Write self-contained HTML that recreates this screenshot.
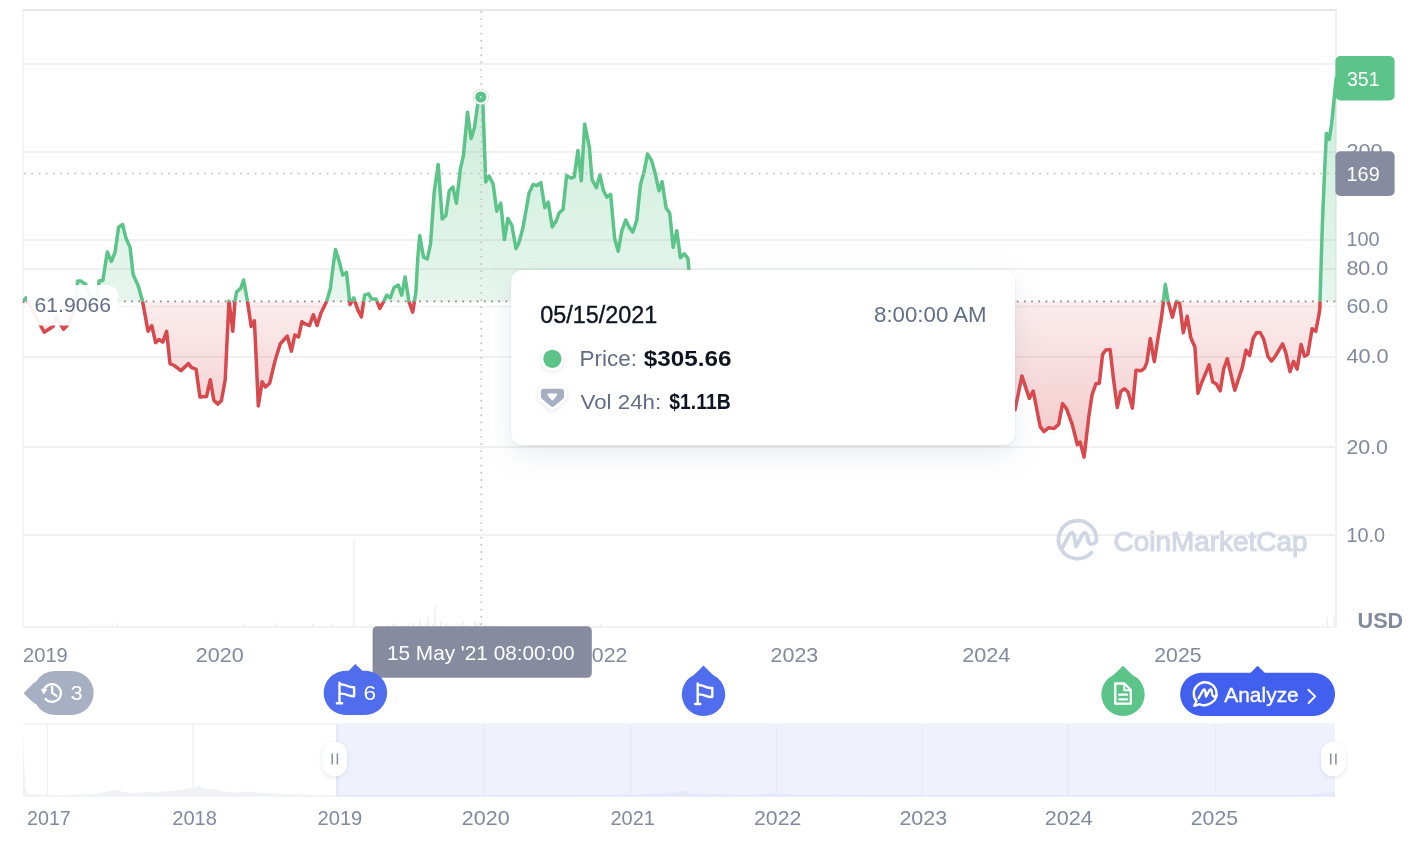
<!DOCTYPE html>
<html lang="en"><head><meta charset="utf-8"><title>Price chart</title>
<style>
html,body{margin:0;padding:0;background:#fff;}
body{width:1418px;height:842px;overflow:hidden;font-family:"Liberation Sans",sans-serif;}
svg{display:block;}
svg text{font-family:"Liberation Sans",sans-serif;}
</style></head><body>
<svg width="1418" height="842" viewBox="0 0 1418 842">
<defs>
<linearGradient id="gG" gradientUnits="userSpaceOnUse" x1="0" y1="78" x2="0" y2="301.4">
<stop offset="0" stop-color="#5cc489" stop-opacity="0.32"/><stop offset="1" stop-color="#5cc489" stop-opacity="0.15"/></linearGradient>
<linearGradient id="gR" gradientUnits="userSpaceOnUse" x1="0" y1="301.4" x2="0" y2="460">
<stop offset="0" stop-color="#d8494e" stop-opacity="0.10"/><stop offset="1" stop-color="#d8494e" stop-opacity="0.31"/></linearGradient>
<clipPath id="cUp"><rect x="22.8" y="0" width="1315.2" height="301.4"/></clipPath>
<clipPath id="cDn"><rect x="22.8" y="301.4" width="1315.2" height="325.6"/></clipPath>
<filter id="sh" x="-10%" y="-25%" width="120%" height="170%"><feDropShadow dx="0" dy="9" stdDeviation="13" flood-color="#808a9d" flood-opacity="0.17" result="a"/><feDropShadow in="SourceGraphic" dx="0" dy="1" stdDeviation="1.1" flood-color="#808a9d" flood-opacity="0.16" result="b"/><feMerge><feMergeNode in="a"/><feMergeNode in="b"/></feMerge></filter>
<filter id="sh2" x="-50%" y="-50%" width="200%" height="200%"><feDropShadow dx="0" dy="1.5" stdDeviation="2.2" flood-color="#58667e" flood-opacity="0.16"/></filter>
</defs>
<rect width="1418" height="842" fill="#fff"/>

<line x1="22.8" y1="64" x2="1336.5" y2="64" stroke="#f0f0f0" stroke-width="2"/>
<line x1="22.8" y1="152" x2="1336.5" y2="152" stroke="#f0f0f0" stroke-width="2"/>
<line x1="22.8" y1="240" x2="1336.5" y2="240" stroke="#f0f0f0" stroke-width="2"/>
<line x1="22.8" y1="269" x2="1336.5" y2="269" stroke="#f0f0f0" stroke-width="2"/>
<line x1="22.8" y1="357" x2="1336.5" y2="357" stroke="#f0f0f0" stroke-width="2"/>
<line x1="22.8" y1="447" x2="1336.5" y2="447" stroke="#f0f0f0" stroke-width="2"/>
<line x1="22.8" y1="535" x2="1336.5" y2="535" stroke="#f0f0f0" stroke-width="2"/>
<line x1="22.8" y1="306.6" x2="1336.5" y2="306.6" stroke="#f1f1f1" stroke-width="1.2"/>
<line x1="22" y1="10" x2="1337" y2="10" stroke="#e6e6e6" stroke-width="2"/>
<line x1="22" y1="627" x2="1337" y2="627" stroke="#f2f2f2" stroke-width="2"/>
<line x1="22.9" y1="10" x2="22.9" y2="628" stroke="#f2f2f2" stroke-width="1.5"/>
<line x1="1336" y1="10" x2="1336" y2="628" stroke="#f2f2f2" stroke-width="2"/>
<line x1="354.0" y1="540.5" x2="354.0" y2="627" stroke="#eff0f6" stroke-width="1.6"/>
<line x1="435.0" y1="606.0" x2="435.0" y2="627" stroke="#eff0f6" stroke-width="1.6"/>
<line x1="420.0" y1="620.0" x2="420.0" y2="627" stroke="#eff0f6" stroke-width="1.6"/>
<line x1="428.0" y1="617.0" x2="428.0" y2="627" stroke="#eff0f6" stroke-width="1.6"/>
<line x1="441.0" y1="621.0" x2="441.0" y2="627" stroke="#eff0f6" stroke-width="1.6"/>
<line x1="475.0" y1="620.0" x2="475.0" y2="627" stroke="#eff0f6" stroke-width="1.6"/>
<line x1="479.0" y1="622.0" x2="479.0" y2="627" stroke="#eff0f6" stroke-width="1.6"/>
<line x1="463.0" y1="621.0" x2="463.0" y2="627" stroke="#eff0f6" stroke-width="1.6"/>
<line x1="96.0" y1="624.0" x2="96.0" y2="627" stroke="#eff0f6" stroke-width="1.6"/>
<line x1="112.0" y1="624.0" x2="112.0" y2="627" stroke="#eff0f6" stroke-width="1.6"/>
<line x1="117.0" y1="623.5" x2="117.0" y2="627" stroke="#eff0f6" stroke-width="1.6"/>
<line x1="184.0" y1="625.0" x2="184.0" y2="627" stroke="#eff0f6" stroke-width="1.6"/>
<line x1="243.0" y1="624.0" x2="243.0" y2="627" stroke="#eff0f6" stroke-width="1.6"/>
<line x1="277.0" y1="623.5" x2="277.0" y2="627" stroke="#eff0f6" stroke-width="1.6"/>
<line x1="313.0" y1="624.0" x2="313.0" y2="627" stroke="#eff0f6" stroke-width="1.6"/>
<line x1="331.0" y1="624.0" x2="331.0" y2="627" stroke="#eff0f6" stroke-width="1.6"/>
<line x1="371.0" y1="624.0" x2="371.0" y2="627" stroke="#eff0f6" stroke-width="1.6"/>
<line x1="393.0" y1="624.0" x2="393.0" y2="627" stroke="#eff0f6" stroke-width="1.6"/>
<line x1="1323.3" y1="624.0" x2="1323.3" y2="627" stroke="#eff0f6" stroke-width="1.6"/>
<line x1="1327.0" y1="617.3" x2="1327.0" y2="627" stroke="#eff0f6" stroke-width="1.6"/>
<line x1="1334.4" y1="617.0" x2="1334.4" y2="627" stroke="#eff0f6" stroke-width="1.6"/>
<line x1="380.5" y1="625.6" x2="380.5" y2="627" stroke="#eff0f6" stroke-width="1.6"/>
<line x1="384.8" y1="625.5" x2="384.8" y2="627" stroke="#eff0f6" stroke-width="1.6"/>
<line x1="388.1" y1="624.6" x2="388.1" y2="627" stroke="#eff0f6" stroke-width="1.6"/>
<line x1="393.8" y1="623.2" x2="393.8" y2="627" stroke="#eff0f6" stroke-width="1.6"/>
<line x1="397.5" y1="625.2" x2="397.5" y2="627" stroke="#eff0f6" stroke-width="1.6"/>
<line x1="401.1" y1="625.0" x2="401.1" y2="627" stroke="#eff0f6" stroke-width="1.6"/>
<line x1="404.3" y1="625.6" x2="404.3" y2="627" stroke="#eff0f6" stroke-width="1.6"/>
<line x1="408.4" y1="622.8" x2="408.4" y2="627" stroke="#eff0f6" stroke-width="1.6"/>
<line x1="413.7" y1="623.2" x2="413.7" y2="627" stroke="#eff0f6" stroke-width="1.6"/>
<line x1="417.6" y1="625.3" x2="417.6" y2="627" stroke="#eff0f6" stroke-width="1.6"/>
<line x1="420.6" y1="623.8" x2="420.6" y2="627" stroke="#eff0f6" stroke-width="1.6"/>
<line x1="425.5" y1="623.0" x2="425.5" y2="627" stroke="#eff0f6" stroke-width="1.6"/>
<line x1="429.8" y1="625.7" x2="429.8" y2="627" stroke="#eff0f6" stroke-width="1.6"/>
<line x1="433.2" y1="623.6" x2="433.2" y2="627" stroke="#eff0f6" stroke-width="1.6"/>
<line x1="437.0" y1="625.4" x2="437.0" y2="627" stroke="#eff0f6" stroke-width="1.6"/>
<line x1="440.9" y1="625.7" x2="440.9" y2="627" stroke="#eff0f6" stroke-width="1.6"/>
<line x1="445.9" y1="623.0" x2="445.9" y2="627" stroke="#eff0f6" stroke-width="1.6"/>
<line x1="449.1" y1="624.9" x2="449.1" y2="627" stroke="#eff0f6" stroke-width="1.6"/>
<line x1="453.8" y1="624.0" x2="453.8" y2="627" stroke="#eff0f6" stroke-width="1.6"/>
<line x1="457.8" y1="623.0" x2="457.8" y2="627" stroke="#eff0f6" stroke-width="1.6"/>
<line x1="461.0" y1="624.6" x2="461.0" y2="627" stroke="#eff0f6" stroke-width="1.6"/>
<line x1="465.2" y1="624.5" x2="465.2" y2="627" stroke="#eff0f6" stroke-width="1.6"/>
<line x1="468.3" y1="624.9" x2="468.3" y2="627" stroke="#eff0f6" stroke-width="1.6"/>
<line x1="473.6" y1="625.8" x2="473.6" y2="627" stroke="#eff0f6" stroke-width="1.6"/>
<line x1="476.1" y1="623.8" x2="476.1" y2="627" stroke="#eff0f6" stroke-width="1.6"/>
<line x1="480.6" y1="624.1" x2="480.6" y2="627" stroke="#eff0f6" stroke-width="1.6"/>
<line x1="484.9" y1="624.8" x2="484.9" y2="627" stroke="#eff0f6" stroke-width="1.6"/>
<line x1="490.0" y1="625.3" x2="490.0" y2="627" stroke="#eff0f6" stroke-width="1.6"/>
<line x1="492.8" y1="625.3" x2="492.8" y2="627" stroke="#eff0f6" stroke-width="1.6"/>
<line x1="497.3" y1="625.0" x2="497.3" y2="627" stroke="#eff0f6" stroke-width="1.6"/>
<line x1="585.0" y1="625.3" x2="585.0" y2="627" stroke="#eff0f6" stroke-width="1.6"/>
<line x1="589.0" y1="624.5" x2="589.0" y2="627" stroke="#eff0f6" stroke-width="1.6"/>
<line x1="593.0" y1="625.4" x2="593.0" y2="627" stroke="#eff0f6" stroke-width="1.6"/>
<line x1="597.0" y1="624.9" x2="597.0" y2="627" stroke="#eff0f6" stroke-width="1.6"/>
<line x1="601.0" y1="624.2" x2="601.0" y2="627" stroke="#eff0f6" stroke-width="1.6"/>
<path d="M22.8,301.3 L26.0,297.9 L44.2,332.2 L53.3,326.2 L56.4,317.0 L63.4,329.2 L67.5,325.0 L74.5,309.0 L77.6,281.1 L80.6,281.0 L85.7,284.3 L95.8,307.0 L99.2,280.7 L102.8,280.7 L107.3,252.0 L111.3,261.5 L115.0,252.4 L118.6,227.2 L122.6,224.5 L126.0,238.3 L130.1,247.4 L133.1,274.6 L138.2,285.8 L142.5,300.9 L148.0,331.3 L151.8,325.6 L155.6,342.7 L159.0,339.5 L162.8,342.1 L166.6,331.3 L170.0,363.6 L174.2,365.5 L180.9,370.6 L188.5,363.6 L191.3,367.4 L196.1,369.3 L199.9,396.9 L206.5,396.5 L210.3,379.8 L213.8,400.3 L217.6,404.1 L221.4,400.7 L225.2,379.8 L227.1,339.8 L229.0,300.9 L232.8,331.3 L235.0,300.9 L236.6,291.9 L240.8,288.1 L243.6,280.0 L247.4,300.9 L251.2,326.5 L254.4,320.8 L256.3,360.8 L258.3,406.0 L262.1,381.7 L265.5,387.0 L269.7,383.2 L275.0,360.8 L280.3,343.7 L287.3,336.0 L291.4,351.2 L294.8,335.0 L298.6,336.9 L301.9,321.7 L305.7,324.2 L309.5,325.5 L313.3,314.7 L317.1,325.5 L320.9,313.2 L326.6,301.4 L330.4,288.4 L333.2,265.6 L335.5,249.5 L339.3,261.8 L342.7,275.1 L346.5,272.3 L350.0,304.6 L353.8,297.9 L357.6,309.4 L361.4,317.0 L364.6,295.1 L368.4,293.8 L371.6,298.9 L376.0,298.9 L379.8,308.4 L383.6,301.7 L386.8,295.1 L390.3,297.9 L394.1,287.5 L398.3,285.0 L401.7,295.1 L405.1,277.0 L408.9,301.4 L412.7,312.2 L415.9,292.2 L417.8,258.0 L419.7,235.6 L423.5,257.1 L427.3,259.0 L430.5,244.4 L434.1,193.1 L438.2,164.4 L442.2,219.0 L445.9,215.4 L449.3,190.7 L452.9,187.1 L456.4,203.2 L460.4,168.9 L463.4,155.8 L467.5,112.3 L471.1,138.6 L474.5,127.5 L477.6,105.3 L480.6,97.2 L483.0,106.3 L485.7,182.0 L489.1,176.0 L493.1,184.0 L496.8,211.3 L500.8,203.2 L504.4,239.6 L507.9,218.4 L511.9,225.5 L516.0,248.7 L519.0,242.6 L523.0,227.5 L529.1,193.1 L533.1,184.6 L536.8,185.5 L540.8,182.6 L544.8,207.7 L548.3,202.2 L552.2,227.0 L556.1,221.0 L559.1,213.0 L563.1,209.3 L566.6,175.6 L571.2,178.2 L574.2,177.0 L577.9,150.4 L581.3,180.7 L584.7,124.1 L589.4,147.4 L592.0,179.7 L596.4,187.7 L599.9,175.0 L603.5,190.8 L606.9,197.2 L610.6,194.4 L614.6,238.2 L618.2,251.3 L621.7,231.1 L625.7,220.0 L629.1,227.1 L632.8,232.1 L636.8,220.0 L640.4,184.7 L643.9,172.6 L647.5,154.0 L651.6,160.5 L655.0,172.6 L659.0,190.8 L662.1,181.7 L666.1,207.9 L669.7,213.0 L673.2,247.3 L676.8,230.7 L680.4,257.8 L684.3,253.8 L687.9,258.4 L688.9,269.5 L691.0,290.0 L693.0,301.4 L700.0,330.0 L1010.0,400.0 L1015.1,409.7 L1021.9,375.9 L1029.3,398.4 L1033.2,391.0 L1040.2,426.6 L1044.0,431.6 L1048.5,427.8 L1054.1,428.4 L1058.7,424.4 L1062.5,403.6 L1066.5,408.6 L1072.2,424.4 L1077.4,444.7 L1080.1,442.0 L1084.1,457.1 L1088.7,417.6 L1092.0,395.0 L1095.9,383.8 L1099.3,383.3 L1102.6,354.4 L1106.0,349.9 L1110.1,349.5 L1113.5,379.3 L1117.3,407.5 L1120.7,391.7 L1124.5,388.7 L1128.1,392.3 L1132.4,408.1 L1136.0,370.2 L1141.0,370.7 L1144.4,368.4 L1146.8,362.6 L1150.3,338.6 L1154.3,361.8 L1157.8,339.5 L1161.4,318.1 L1163.5,301.2 L1165.3,284.3 L1168.1,301.2 L1172.4,317.2 L1176.5,301.2 L1179.6,303.0 L1183.3,332.7 L1187.2,316.3 L1190.8,337.7 L1194.9,347.0 L1197.9,393.3 L1201.5,383.1 L1209.1,364.8 L1212.7,381.9 L1216.3,384.0 L1220.2,390.8 L1223.7,368.9 L1227.3,358.7 L1230.9,374.2 L1234.8,390.3 L1238.0,380.5 L1242.4,367.1 L1246.0,350.2 L1249.6,355.5 L1253.1,338.6 L1256.7,332.4 L1260.3,332.7 L1263.8,339.5 L1267.9,356.4 L1271.5,361.2 L1275.8,355.5 L1282.6,343.9 L1285.7,352.4 L1290.0,371.6 L1293.5,361.3 L1297.1,369.1 L1301.1,344.5 L1304.5,356.3 L1307.8,354.2 L1312.1,328.8 L1315.7,331.3 L1318.5,317.1 L1319.9,308.5 L1320.0,301.1 L1322.4,222.7 L1324.5,173.4 L1326.4,133.3 L1329.2,139.5 L1331.6,124.0 L1334.7,93.2 L1336.3,77.8 L1336.3,301.4 L22.8,301.4 Z" fill="url(#gG)" clip-path="url(#cUp)"/>
<path d="M22.8,301.3 L26.0,297.9 L44.2,332.2 L53.3,326.2 L56.4,317.0 L63.4,329.2 L67.5,325.0 L74.5,309.0 L77.6,281.1 L80.6,281.0 L85.7,284.3 L95.8,307.0 L99.2,280.7 L102.8,280.7 L107.3,252.0 L111.3,261.5 L115.0,252.4 L118.6,227.2 L122.6,224.5 L126.0,238.3 L130.1,247.4 L133.1,274.6 L138.2,285.8 L142.5,300.9 L148.0,331.3 L151.8,325.6 L155.6,342.7 L159.0,339.5 L162.8,342.1 L166.6,331.3 L170.0,363.6 L174.2,365.5 L180.9,370.6 L188.5,363.6 L191.3,367.4 L196.1,369.3 L199.9,396.9 L206.5,396.5 L210.3,379.8 L213.8,400.3 L217.6,404.1 L221.4,400.7 L225.2,379.8 L227.1,339.8 L229.0,300.9 L232.8,331.3 L235.0,300.9 L236.6,291.9 L240.8,288.1 L243.6,280.0 L247.4,300.9 L251.2,326.5 L254.4,320.8 L256.3,360.8 L258.3,406.0 L262.1,381.7 L265.5,387.0 L269.7,383.2 L275.0,360.8 L280.3,343.7 L287.3,336.0 L291.4,351.2 L294.8,335.0 L298.6,336.9 L301.9,321.7 L305.7,324.2 L309.5,325.5 L313.3,314.7 L317.1,325.5 L320.9,313.2 L326.6,301.4 L330.4,288.4 L333.2,265.6 L335.5,249.5 L339.3,261.8 L342.7,275.1 L346.5,272.3 L350.0,304.6 L353.8,297.9 L357.6,309.4 L361.4,317.0 L364.6,295.1 L368.4,293.8 L371.6,298.9 L376.0,298.9 L379.8,308.4 L383.6,301.7 L386.8,295.1 L390.3,297.9 L394.1,287.5 L398.3,285.0 L401.7,295.1 L405.1,277.0 L408.9,301.4 L412.7,312.2 L415.9,292.2 L417.8,258.0 L419.7,235.6 L423.5,257.1 L427.3,259.0 L430.5,244.4 L434.1,193.1 L438.2,164.4 L442.2,219.0 L445.9,215.4 L449.3,190.7 L452.9,187.1 L456.4,203.2 L460.4,168.9 L463.4,155.8 L467.5,112.3 L471.1,138.6 L474.5,127.5 L477.6,105.3 L480.6,97.2 L483.0,106.3 L485.7,182.0 L489.1,176.0 L493.1,184.0 L496.8,211.3 L500.8,203.2 L504.4,239.6 L507.9,218.4 L511.9,225.5 L516.0,248.7 L519.0,242.6 L523.0,227.5 L529.1,193.1 L533.1,184.6 L536.8,185.5 L540.8,182.6 L544.8,207.7 L548.3,202.2 L552.2,227.0 L556.1,221.0 L559.1,213.0 L563.1,209.3 L566.6,175.6 L571.2,178.2 L574.2,177.0 L577.9,150.4 L581.3,180.7 L584.7,124.1 L589.4,147.4 L592.0,179.7 L596.4,187.7 L599.9,175.0 L603.5,190.8 L606.9,197.2 L610.6,194.4 L614.6,238.2 L618.2,251.3 L621.7,231.1 L625.7,220.0 L629.1,227.1 L632.8,232.1 L636.8,220.0 L640.4,184.7 L643.9,172.6 L647.5,154.0 L651.6,160.5 L655.0,172.6 L659.0,190.8 L662.1,181.7 L666.1,207.9 L669.7,213.0 L673.2,247.3 L676.8,230.7 L680.4,257.8 L684.3,253.8 L687.9,258.4 L688.9,269.5 L691.0,290.0 L693.0,301.4 L700.0,330.0 L1010.0,400.0 L1015.1,409.7 L1021.9,375.9 L1029.3,398.4 L1033.2,391.0 L1040.2,426.6 L1044.0,431.6 L1048.5,427.8 L1054.1,428.4 L1058.7,424.4 L1062.5,403.6 L1066.5,408.6 L1072.2,424.4 L1077.4,444.7 L1080.1,442.0 L1084.1,457.1 L1088.7,417.6 L1092.0,395.0 L1095.9,383.8 L1099.3,383.3 L1102.6,354.4 L1106.0,349.9 L1110.1,349.5 L1113.5,379.3 L1117.3,407.5 L1120.7,391.7 L1124.5,388.7 L1128.1,392.3 L1132.4,408.1 L1136.0,370.2 L1141.0,370.7 L1144.4,368.4 L1146.8,362.6 L1150.3,338.6 L1154.3,361.8 L1157.8,339.5 L1161.4,318.1 L1163.5,301.2 L1165.3,284.3 L1168.1,301.2 L1172.4,317.2 L1176.5,301.2 L1179.6,303.0 L1183.3,332.7 L1187.2,316.3 L1190.8,337.7 L1194.9,347.0 L1197.9,393.3 L1201.5,383.1 L1209.1,364.8 L1212.7,381.9 L1216.3,384.0 L1220.2,390.8 L1223.7,368.9 L1227.3,358.7 L1230.9,374.2 L1234.8,390.3 L1238.0,380.5 L1242.4,367.1 L1246.0,350.2 L1249.6,355.5 L1253.1,338.6 L1256.7,332.4 L1260.3,332.7 L1263.8,339.5 L1267.9,356.4 L1271.5,361.2 L1275.8,355.5 L1282.6,343.9 L1285.7,352.4 L1290.0,371.6 L1293.5,361.3 L1297.1,369.1 L1301.1,344.5 L1304.5,356.3 L1307.8,354.2 L1312.1,328.8 L1315.7,331.3 L1318.5,317.1 L1319.9,308.5 L1320.0,301.1 L1322.4,222.7 L1324.5,173.4 L1326.4,133.3 L1329.2,139.5 L1331.6,124.0 L1334.7,93.2 L1336.3,77.8 L1336.3,301.4 L22.8,301.4 Z" fill="url(#gR)" clip-path="url(#cDn)"/>
<line x1="22.8" y1="301.4" x2="1336.5" y2="301.4" stroke="#8a8a8e" stroke-width="1.7" stroke-dasharray="1.8 5.4" stroke-dashoffset="-0.3"/>
<path d="M22.8,301.3 L26.0,297.9 L44.2,332.2 L53.3,326.2 L56.4,317.0 L63.4,329.2 L67.5,325.0 L74.5,309.0 L77.6,281.1 L80.6,281.0 L85.7,284.3 L95.8,307.0 L99.2,280.7 L102.8,280.7 L107.3,252.0 L111.3,261.5 L115.0,252.4 L118.6,227.2 L122.6,224.5 L126.0,238.3 L130.1,247.4 L133.1,274.6 L138.2,285.8 L142.5,300.9 L148.0,331.3 L151.8,325.6 L155.6,342.7 L159.0,339.5 L162.8,342.1 L166.6,331.3 L170.0,363.6 L174.2,365.5 L180.9,370.6 L188.5,363.6 L191.3,367.4 L196.1,369.3 L199.9,396.9 L206.5,396.5 L210.3,379.8 L213.8,400.3 L217.6,404.1 L221.4,400.7 L225.2,379.8 L227.1,339.8 L229.0,300.9 L232.8,331.3 L235.0,300.9 L236.6,291.9 L240.8,288.1 L243.6,280.0 L247.4,300.9 L251.2,326.5 L254.4,320.8 L256.3,360.8 L258.3,406.0 L262.1,381.7 L265.5,387.0 L269.7,383.2 L275.0,360.8 L280.3,343.7 L287.3,336.0 L291.4,351.2 L294.8,335.0 L298.6,336.9 L301.9,321.7 L305.7,324.2 L309.5,325.5 L313.3,314.7 L317.1,325.5 L320.9,313.2 L326.6,301.4 L330.4,288.4 L333.2,265.6 L335.5,249.5 L339.3,261.8 L342.7,275.1 L346.5,272.3 L350.0,304.6 L353.8,297.9 L357.6,309.4 L361.4,317.0 L364.6,295.1 L368.4,293.8 L371.6,298.9 L376.0,298.9 L379.8,308.4 L383.6,301.7 L386.8,295.1 L390.3,297.9 L394.1,287.5 L398.3,285.0 L401.7,295.1 L405.1,277.0 L408.9,301.4 L412.7,312.2 L415.9,292.2 L417.8,258.0 L419.7,235.6 L423.5,257.1 L427.3,259.0 L430.5,244.4 L434.1,193.1 L438.2,164.4 L442.2,219.0 L445.9,215.4 L449.3,190.7 L452.9,187.1 L456.4,203.2 L460.4,168.9 L463.4,155.8 L467.5,112.3 L471.1,138.6 L474.5,127.5 L477.6,105.3 L480.6,97.2 L483.0,106.3 L485.7,182.0 L489.1,176.0 L493.1,184.0 L496.8,211.3 L500.8,203.2 L504.4,239.6 L507.9,218.4 L511.9,225.5 L516.0,248.7 L519.0,242.6 L523.0,227.5 L529.1,193.1 L533.1,184.6 L536.8,185.5 L540.8,182.6 L544.8,207.7 L548.3,202.2 L552.2,227.0 L556.1,221.0 L559.1,213.0 L563.1,209.3 L566.6,175.6 L571.2,178.2 L574.2,177.0 L577.9,150.4 L581.3,180.7 L584.7,124.1 L589.4,147.4 L592.0,179.7 L596.4,187.7 L599.9,175.0 L603.5,190.8 L606.9,197.2 L610.6,194.4 L614.6,238.2 L618.2,251.3 L621.7,231.1 L625.7,220.0 L629.1,227.1 L632.8,232.1 L636.8,220.0 L640.4,184.7 L643.9,172.6 L647.5,154.0 L651.6,160.5 L655.0,172.6 L659.0,190.8 L662.1,181.7 L666.1,207.9 L669.7,213.0 L673.2,247.3 L676.8,230.7 L680.4,257.8 L684.3,253.8 L687.9,258.4 L688.9,269.5 L691.0,290.0 L693.0,301.4 L700.0,330.0 L1010.0,400.0 L1015.1,409.7 L1021.9,375.9 L1029.3,398.4 L1033.2,391.0 L1040.2,426.6 L1044.0,431.6 L1048.5,427.8 L1054.1,428.4 L1058.7,424.4 L1062.5,403.6 L1066.5,408.6 L1072.2,424.4 L1077.4,444.7 L1080.1,442.0 L1084.1,457.1 L1088.7,417.6 L1092.0,395.0 L1095.9,383.8 L1099.3,383.3 L1102.6,354.4 L1106.0,349.9 L1110.1,349.5 L1113.5,379.3 L1117.3,407.5 L1120.7,391.7 L1124.5,388.7 L1128.1,392.3 L1132.4,408.1 L1136.0,370.2 L1141.0,370.7 L1144.4,368.4 L1146.8,362.6 L1150.3,338.6 L1154.3,361.8 L1157.8,339.5 L1161.4,318.1 L1163.5,301.2 L1165.3,284.3 L1168.1,301.2 L1172.4,317.2 L1176.5,301.2 L1179.6,303.0 L1183.3,332.7 L1187.2,316.3 L1190.8,337.7 L1194.9,347.0 L1197.9,393.3 L1201.5,383.1 L1209.1,364.8 L1212.7,381.9 L1216.3,384.0 L1220.2,390.8 L1223.7,368.9 L1227.3,358.7 L1230.9,374.2 L1234.8,390.3 L1238.0,380.5 L1242.4,367.1 L1246.0,350.2 L1249.6,355.5 L1253.1,338.6 L1256.7,332.4 L1260.3,332.7 L1263.8,339.5 L1267.9,356.4 L1271.5,361.2 L1275.8,355.5 L1282.6,343.9 L1285.7,352.4 L1290.0,371.6 L1293.5,361.3 L1297.1,369.1 L1301.1,344.5 L1304.5,356.3 L1307.8,354.2 L1312.1,328.8 L1315.7,331.3 L1318.5,317.1 L1319.9,308.5 L1320.0,301.1 L1322.4,222.7 L1324.5,173.4 L1326.4,133.3 L1329.2,139.5 L1331.6,124.0 L1334.7,93.2 L1336.3,77.8" fill="none" stroke="#5cc489" stroke-width="3.5" stroke-linejoin="round" stroke-linecap="round" clip-path="url(#cUp)"/>
<path d="M22.8,301.3 L26.0,297.9 L44.2,332.2 L53.3,326.2 L56.4,317.0 L63.4,329.2 L67.5,325.0 L74.5,309.0 L77.6,281.1 L80.6,281.0 L85.7,284.3 L95.8,307.0 L99.2,280.7 L102.8,280.7 L107.3,252.0 L111.3,261.5 L115.0,252.4 L118.6,227.2 L122.6,224.5 L126.0,238.3 L130.1,247.4 L133.1,274.6 L138.2,285.8 L142.5,300.9 L148.0,331.3 L151.8,325.6 L155.6,342.7 L159.0,339.5 L162.8,342.1 L166.6,331.3 L170.0,363.6 L174.2,365.5 L180.9,370.6 L188.5,363.6 L191.3,367.4 L196.1,369.3 L199.9,396.9 L206.5,396.5 L210.3,379.8 L213.8,400.3 L217.6,404.1 L221.4,400.7 L225.2,379.8 L227.1,339.8 L229.0,300.9 L232.8,331.3 L235.0,300.9 L236.6,291.9 L240.8,288.1 L243.6,280.0 L247.4,300.9 L251.2,326.5 L254.4,320.8 L256.3,360.8 L258.3,406.0 L262.1,381.7 L265.5,387.0 L269.7,383.2 L275.0,360.8 L280.3,343.7 L287.3,336.0 L291.4,351.2 L294.8,335.0 L298.6,336.9 L301.9,321.7 L305.7,324.2 L309.5,325.5 L313.3,314.7 L317.1,325.5 L320.9,313.2 L326.6,301.4 L330.4,288.4 L333.2,265.6 L335.5,249.5 L339.3,261.8 L342.7,275.1 L346.5,272.3 L350.0,304.6 L353.8,297.9 L357.6,309.4 L361.4,317.0 L364.6,295.1 L368.4,293.8 L371.6,298.9 L376.0,298.9 L379.8,308.4 L383.6,301.7 L386.8,295.1 L390.3,297.9 L394.1,287.5 L398.3,285.0 L401.7,295.1 L405.1,277.0 L408.9,301.4 L412.7,312.2 L415.9,292.2 L417.8,258.0 L419.7,235.6 L423.5,257.1 L427.3,259.0 L430.5,244.4 L434.1,193.1 L438.2,164.4 L442.2,219.0 L445.9,215.4 L449.3,190.7 L452.9,187.1 L456.4,203.2 L460.4,168.9 L463.4,155.8 L467.5,112.3 L471.1,138.6 L474.5,127.5 L477.6,105.3 L480.6,97.2 L483.0,106.3 L485.7,182.0 L489.1,176.0 L493.1,184.0 L496.8,211.3 L500.8,203.2 L504.4,239.6 L507.9,218.4 L511.9,225.5 L516.0,248.7 L519.0,242.6 L523.0,227.5 L529.1,193.1 L533.1,184.6 L536.8,185.5 L540.8,182.6 L544.8,207.7 L548.3,202.2 L552.2,227.0 L556.1,221.0 L559.1,213.0 L563.1,209.3 L566.6,175.6 L571.2,178.2 L574.2,177.0 L577.9,150.4 L581.3,180.7 L584.7,124.1 L589.4,147.4 L592.0,179.7 L596.4,187.7 L599.9,175.0 L603.5,190.8 L606.9,197.2 L610.6,194.4 L614.6,238.2 L618.2,251.3 L621.7,231.1 L625.7,220.0 L629.1,227.1 L632.8,232.1 L636.8,220.0 L640.4,184.7 L643.9,172.6 L647.5,154.0 L651.6,160.5 L655.0,172.6 L659.0,190.8 L662.1,181.7 L666.1,207.9 L669.7,213.0 L673.2,247.3 L676.8,230.7 L680.4,257.8 L684.3,253.8 L687.9,258.4 L688.9,269.5 L691.0,290.0 L693.0,301.4 L700.0,330.0 L1010.0,400.0 L1015.1,409.7 L1021.9,375.9 L1029.3,398.4 L1033.2,391.0 L1040.2,426.6 L1044.0,431.6 L1048.5,427.8 L1054.1,428.4 L1058.7,424.4 L1062.5,403.6 L1066.5,408.6 L1072.2,424.4 L1077.4,444.7 L1080.1,442.0 L1084.1,457.1 L1088.7,417.6 L1092.0,395.0 L1095.9,383.8 L1099.3,383.3 L1102.6,354.4 L1106.0,349.9 L1110.1,349.5 L1113.5,379.3 L1117.3,407.5 L1120.7,391.7 L1124.5,388.7 L1128.1,392.3 L1132.4,408.1 L1136.0,370.2 L1141.0,370.7 L1144.4,368.4 L1146.8,362.6 L1150.3,338.6 L1154.3,361.8 L1157.8,339.5 L1161.4,318.1 L1163.5,301.2 L1165.3,284.3 L1168.1,301.2 L1172.4,317.2 L1176.5,301.2 L1179.6,303.0 L1183.3,332.7 L1187.2,316.3 L1190.8,337.7 L1194.9,347.0 L1197.9,393.3 L1201.5,383.1 L1209.1,364.8 L1212.7,381.9 L1216.3,384.0 L1220.2,390.8 L1223.7,368.9 L1227.3,358.7 L1230.9,374.2 L1234.8,390.3 L1238.0,380.5 L1242.4,367.1 L1246.0,350.2 L1249.6,355.5 L1253.1,338.6 L1256.7,332.4 L1260.3,332.7 L1263.8,339.5 L1267.9,356.4 L1271.5,361.2 L1275.8,355.5 L1282.6,343.9 L1285.7,352.4 L1290.0,371.6 L1293.5,361.3 L1297.1,369.1 L1301.1,344.5 L1304.5,356.3 L1307.8,354.2 L1312.1,328.8 L1315.7,331.3 L1318.5,317.1 L1319.9,308.5 L1320.0,301.1 L1322.4,222.7 L1324.5,173.4 L1326.4,133.3 L1329.2,139.5 L1331.6,124.0 L1334.7,93.2 L1336.3,77.8" fill="none" stroke="#d8494e" stroke-width="3.5" stroke-linejoin="round" stroke-linecap="round" clip-path="url(#cDn)"/>
<line x1="481.3" y1="11" x2="481.3" y2="627" stroke="#c6bec5" stroke-width="1.5" stroke-dasharray="1.8 5.4" stroke-dashoffset="-0.1"/>
<line x1="22.8" y1="173.6" x2="1336.5" y2="173.6" stroke="#c6bec5" stroke-width="1.5" stroke-dasharray="1.8 5.4" stroke-dashoffset="-1.3"/>
<circle cx="480.8" cy="97" r="7.8" fill="#fff" stroke="#5cc489" stroke-opacity="0.3" stroke-width="1"/>
<circle cx="480.8" cy="97" r="5.6" fill="#5cc489"/>
<circle cx="480.8" cy="97" r="0.9" fill="#d9efe2"/>
<rect x="27" y="285" width="91.5" height="40.5" rx="12" fill="#fff" fill-opacity="0.93"/>
<text x="34.6" y="312" font-size="20.2" fill="#616e85" textLength="76.3" lengthAdjust="spacingAndGlyphs">61.9066</text>
<g fill="none" stroke="#cfd5e3" stroke-width="3.7" stroke-linecap="round" stroke-linejoin="round"><path d="M1091.5,552.5 A19,19 0 1 1 1096.4,541.5"/><path d="M1061.5,549 L1069.5,534.5 Q1072,530.5 1074,535 L1076,546.5 L1082.5,534.5 Q1085,530.5 1087,535 L1088.5,541.5 Q1091.5,547 1096.4,541.5"/></g>
<text x="1113.6" y="550.7" font-size="27.4" fill="#d2d8e5" textLength="194" lengthAdjust="spacingAndGlyphs" stroke="#d2d8e5" stroke-width="1.15" stroke-linejoin="round">CoinMarketCap</text>
<text x="1346.4" y="158.4" font-size="19.8" fill="#808a9d" textLength="36.1" lengthAdjust="spacingAndGlyphs">200</text>
<text x="1346.4" y="246.3" font-size="19.8" fill="#808a9d" textLength="33.2" lengthAdjust="spacingAndGlyphs">100</text>
<text x="1346.4" y="275.3" font-size="19.8" fill="#808a9d" textLength="41.9" lengthAdjust="spacingAndGlyphs">80.0</text>
<text x="1346.4" y="312.9" font-size="19.8" fill="#808a9d" textLength="41.9" lengthAdjust="spacingAndGlyphs">60.0</text>
<text x="1346.4" y="363.2" font-size="19.8" fill="#808a9d" textLength="42.3" lengthAdjust="spacingAndGlyphs">40.0</text>
<text x="1346.4" y="453.9" font-size="19.8" fill="#808a9d" textLength="41.5" lengthAdjust="spacingAndGlyphs">20.0</text>
<text x="1346.4" y="541.7" font-size="19.8" fill="#808a9d" textLength="38.7" lengthAdjust="spacingAndGlyphs">10.0</text>
<text x="1357.6" y="627.7" font-size="21.4" fill="#808a9d" font-weight="bold" textLength="45.6" lengthAdjust="spacingAndGlyphs">USD</text>
<rect x="1335.4" y="56.1" width="59.2" height="44.4" rx="5" fill="#5cc489"/>
<text x="1346.9" y="85.9" font-size="19.8" fill="#fff" textLength="32.7" lengthAdjust="spacingAndGlyphs">351</text>
<rect x="1335.4" y="151.2" width="59.2" height="44.7" rx="5" fill="#868b9f"/>
<text x="1346.6" y="181.2" font-size="19.8" fill="#fff" textLength="33.1" lengthAdjust="spacingAndGlyphs">169</text>
<text x="23" y="662" font-size="19.8" fill="#808a9d" textLength="44.8" lengthAdjust="spacingAndGlyphs">2019</text>
<text x="195.8" y="662" font-size="19.8" fill="#808a9d" textLength="47.8" lengthAdjust="spacingAndGlyphs">2020</text>
<text x="389.8" y="662" font-size="19.8" fill="#808a9d" textLength="44.5" lengthAdjust="spacingAndGlyphs">2021</text>
<text x="580.0" y="662" font-size="19.8" fill="#808a9d" textLength="47.3" lengthAdjust="spacingAndGlyphs">2022</text>
<text x="770.6" y="662" font-size="19.8" fill="#808a9d" textLength="47.7" lengthAdjust="spacingAndGlyphs">2023</text>
<text x="962.2" y="662" font-size="19.8" fill="#808a9d" textLength="48.1" lengthAdjust="spacingAndGlyphs">2024</text>
<text x="1154.3" y="662" font-size="19.8" fill="#808a9d" textLength="47.3" lengthAdjust="spacingAndGlyphs">2025</text>
<rect x="372.6" y="626.2" width="219.2" height="51.6" rx="4.5" fill="#868b9f"/>
<text x="387" y="660.4" font-size="19.8" fill="#fff" textLength="187.5" lengthAdjust="spacingAndGlyphs">15 May '21 08:00:00</text>
<path d="M55,671 H71.7 A21.95,21.95 0 0 1 71.7,714.9 H55 A21.95,21.95 0 0 1 36.2,704.3 Q33.5,703.6 23.7,693.3 Q33.5,682.6 36.2,681.6 A21.95,21.95 0 0 1 55,671 Z" fill="#a7afc3"/>
<g fill="none" stroke="#fff" stroke-width="2.3" stroke-linecap="round" stroke-linejoin="round"><path d="M43.7,690.4 A8.8,8.8 0 1 1 45.6,698.9"/><path d="M52.1,687 V692.9 L56.4,695.7"/></g><path d="M41.3,689.3 L46.6,689.8 L43.6,693.8 Z" fill="#fff" stroke="#fff" stroke-width="0.8" stroke-linejoin="round"/>
<text x="70.6" y="700" font-size="20.4" fill="#fff" textLength="12.2" lengthAdjust="spacingAndGlyphs">3</text>
<path d="M345.7,670.8 H348.7 L355.3,664 L362.4,670.8 H365.1 A22.05,22.05 0 0 1 365.1,714.9 H345.7 A22.05,22.05 0 0 1 345.7,670.8 Z" fill="#4f6dec"/>
<g fill="none" stroke="#fff" stroke-width="2.4" stroke-linecap="round" stroke-linejoin="round"><path d="M339.5,682.6 V703.2 M336.9,703.2 H342.1"/><path d="M340.7,684.2 Q344.5,684.6 347.5,686 T354.1,687.2 V696.2 Q350.5,696.4 347.5,695 T340.7,693.6"/></g>
<text x="363.4" y="700" font-size="20.4" fill="#fff" textLength="12.6" lengthAdjust="spacingAndGlyphs">6</text>
<path d="M703.5,665.6 Q708.9,671.2 713.1,674.94 A21.7,21.7 0 1 1 693.9,674.94 Q698.1,671.2 703.5,665.6 Z" fill="#4f6dec"/>
<g fill="none" stroke="#fff" stroke-width="2.4" stroke-linecap="round" stroke-linejoin="round"><path d="M697.7,683.4 V704.0 M695.1,704.0 H700.3000000000001"/><path d="M698.9000000000001,685.0 Q702.7,685.4 705.7,686.8 T712.3000000000001,688.0 V697.0 Q708.7,697.1999999999999 705.7,695.8 T698.9000000000001,694.4"/></g>
<path d="M1123,665.8 Q1128.4,671.4 1132.6,674.94 A21.7,21.7 0 1 1 1113.4,674.94 Q1117.6,671.4 1123,665.8 Z" fill="#5cc489"/>
<g fill="none" stroke="#fff" stroke-width="2.3" stroke-linejoin="round" stroke-linecap="round"><path d="M1115.3,683.5 H1124.5 L1130.8,690 V703.7 H1115.3 Z"/><path d="M1124.3,684 V690.3 H1130.5" stroke-width="2"/><path d="M1119.2,694.7 H1127 M1119.2,699.3 H1127"/></g>
<path d="M1201.7,672.8 H1250.6 L1257.6,665.8 L1264.8,672.8 H1313.5 A21.55,21.55 0 0 1 1313.5,715.9 H1201.7 A21.55,21.55 0 0 1 1201.7,672.8 Z" fill="#4260f0"/>
<g fill="none" stroke="#fff" stroke-width="2.3" stroke-linecap="round" stroke-linejoin="round"><path d="M1196.6,701.2 A11.4,11.4 0 1 1 1214.2,700.6 Q1206,707.5 1199.8,704.2 L1194.2,705.8 Z"/><path d="M1198.6,698.2 L1203,690.3 Q1204.3,688.4 1205.2,690.6 L1206,696.6 L1209.4,690.3 Q1210.8,688.4 1211.6,690.6 L1212.4,695 Q1214,698.2 1216.6,695.6"/></g>
<text x="1224.2" y="702" font-size="19.8" fill="#fff" textLength="74.6" lengthAdjust="spacingAndGlyphs" stroke="#fff" stroke-width="0.35">Analyze</text>
<path d="M1308.3,689.7 L1315.2,696.4 L1308.6,703" fill="none" stroke="#fff" stroke-width="1.9" stroke-linecap="round" stroke-linejoin="round"/>
<rect x="23.1" y="724" width="1311.9" height="72" fill="#fff"/>
<rect x="337" y="724" width="998" height="72" fill="#eff2fd"/>
<line x1="23.1" y1="796" x2="337" y2="796" stroke="#eff0f4" stroke-width="1.5"/>
<line x1="337" y1="796" x2="1335" y2="796" stroke="#e3e7f7" stroke-width="1.5"/>
<line x1="47.4" y1="724" x2="47.4" y2="796" stroke="#eef0f4" stroke-width="1.3"/>
<line x1="193.2" y1="724" x2="193.2" y2="796" stroke="#eef0f4" stroke-width="1.3"/>
<line x1="484.4" y1="724" x2="484.4" y2="796" stroke="#e6e9f7" stroke-width="1.4"/>
<line x1="631" y1="724" x2="631" y2="796" stroke="#e6e9f7" stroke-width="1.4"/>
<line x1="776.5" y1="724" x2="776.5" y2="796" stroke="#e6e9f7" stroke-width="1.4"/>
<line x1="922.1" y1="724" x2="922.1" y2="796" stroke="#e6e9f7" stroke-width="1.4"/>
<line x1="1067.7" y1="724" x2="1067.7" y2="796" stroke="#e6e9f7" stroke-width="1.4"/>
<line x1="1215.7" y1="724" x2="1215.7" y2="796" stroke="#e6e9f7" stroke-width="1.4"/>
<path d="M23.1,726 L24,760 L25.5,788 L28,794 L60,795 L95,794 L108,791.5 L116,790 L124,792 L135,793 L145,792 L155,792.5 L170,791 L182,789.5 L190,788 L196,787 L199,785.5 L203,788 L208,789.5 L214,789 L222,791 L232,792.5 L240,792 L250,791.5 L262,793 L280,794 L300,794.5 L337,795 L337,796 L23.1,796 Z" fill="#f1f2f6"/>
<path d="M337,795.5 L480,795.3 L560,795.2 L600,794.8 L630,794.6 L640,794.4 L648,793.6 L652,793 L656,794 L664,793.8 L670,792.6 L674,792 L678,793 L681,791.4 L683.5,790.5 L686,791.6 L689,793.4 L700,793.8 L715,794.2 L740,794.8 L760,794.4 L768,793.6 L775,793.2 L790,794.4 L830,794.6 L900,795.2 L1300,795.2 L1318,794.2 L1326,792.5 L1335,791.5 L1335,796 L337,796 Z" fill="#e4e8f8"/>
<line x1="337.3" y1="724" x2="337.3" y2="796" stroke="#dfe4f8" stroke-width="2"/>
<line x1="23.1" y1="724" x2="1335" y2="724" stroke="#f3f4f8" stroke-width="2"/>
<rect x="322.6" y="741.7" width="24.4" height="34.5" rx="12.2" fill="#fff" filter="url(#sh2)"/>
<path d="M332.2,753.6 V764.4 M337.40000000000003,753.6 V764.4" stroke="#858ca2" stroke-width="1.5" fill="none"/>
<rect x="1321.1" y="741.7" width="24.4" height="34.5" rx="12.2" fill="#fff" filter="url(#sh2)"/>
<path d="M1330.7,753.6 V764.4 M1335.8999999999999,753.6 V764.4" stroke="#858ca2" stroke-width="1.5" fill="none"/>
<text x="27.1" y="825.2" font-size="19.8" fill="#808a9d" textLength="43.7" lengthAdjust="spacingAndGlyphs">2017</text>
<text x="172.2" y="825.2" font-size="19.8" fill="#808a9d" textLength="44.8" lengthAdjust="spacingAndGlyphs">2018</text>
<text x="317.5" y="825.2" font-size="19.8" fill="#808a9d" textLength="44.8" lengthAdjust="spacingAndGlyphs">2019</text>
<text x="461.8" y="825.2" font-size="19.8" fill="#808a9d" textLength="47.8" lengthAdjust="spacingAndGlyphs">2020</text>
<text x="610.4" y="825.2" font-size="19.8" fill="#808a9d" textLength="44.5" lengthAdjust="spacingAndGlyphs">2021</text>
<text x="754.0" y="825.2" font-size="19.8" fill="#808a9d" textLength="47.3" lengthAdjust="spacingAndGlyphs">2022</text>
<text x="899.4" y="825.2" font-size="19.8" fill="#808a9d" textLength="47.7" lengthAdjust="spacingAndGlyphs">2023</text>
<text x="1044.7" y="825.2" font-size="19.8" fill="#808a9d" textLength="48.1" lengthAdjust="spacingAndGlyphs">2024</text>
<text x="1190.8" y="825.2" font-size="19.8" fill="#808a9d" textLength="47.3" lengthAdjust="spacingAndGlyphs">2025</text>
<rect x="511.3" y="269.9" width="503.7" height="175.1" rx="12" fill="#fff" filter="url(#sh)"/>
<text x="540.2" y="322.5" font-size="23" fill="#0d1421" textLength="117" lengthAdjust="spacingAndGlyphs" stroke="#0d1421" stroke-width="0.35">05/15/2021</text>
<text x="874" y="322.4" font-size="21.4" fill="#616e85" textLength="112.6" lengthAdjust="spacingAndGlyphs">8:00:00 AM</text>
<circle cx="552.4" cy="358.8" r="12" fill="#fff" filter="url(#sh2)"/><circle cx="552.35" cy="358.8" r="9.1" fill="#5cc489"/>
<text x="579.4" y="366.2" font-size="21.2" fill="#616e85" textLength="57.6" lengthAdjust="spacingAndGlyphs">Price:</text>
<text x="643.8" y="366.2" font-size="21.2" fill="#0d1421" font-weight="bold" textLength="87.6" lengthAdjust="spacingAndGlyphs">$305.66</text>
<path d="M543.9,388.7 H561 Q564,388.7 564,391.7 V396.6 Q564,398 562.9,398.9 L554,406.3 Q552.4,407.5 550.8,406.3 L542,398.9 Q540.9,398 540.9,396.6 V391.7 Q540.9,388.7 543.9,388.7 Z" fill="#fff" stroke="#fff" stroke-width="5.2" stroke-linejoin="round" filter="url(#sh2)"/>
<path d="M543.9,388.7 H561 Q564,388.7 564,391.7 V396.6 Q564,398 562.9,398.9 L554,406.3 Q552.4,407.5 550.8,406.3 L542,398.9 Q540.9,398 540.9,396.6 V391.7 Q540.9,388.7 543.9,388.7 Z" fill="#a7afc3"/>
<path d="M548.7,394.7 H556.1 L552.4,399.4 Z" fill="#fff" stroke="#fff" stroke-width="2.2" stroke-linejoin="round"/>
<text x="580.6" y="408.6" font-size="21" fill="#616e85" textLength="80.5" lengthAdjust="spacingAndGlyphs">Vol 24h:</text>
<text x="669.3" y="408.6" font-size="21.2" fill="#0d1421" font-weight="bold" textLength="61.4" lengthAdjust="spacingAndGlyphs">$1.11B</text>
</svg></body></html>
